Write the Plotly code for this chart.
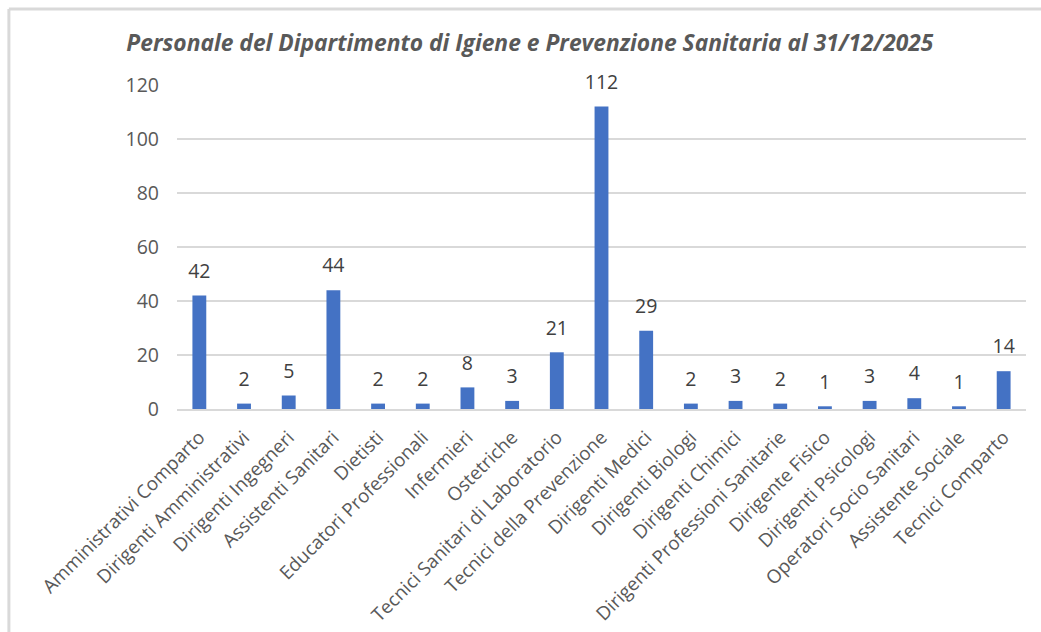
import plotly.graph_objects as go

categorie = [
    "Amministrativi Comparto", "Dirigenti Amministrativi", "Dirigenti Ingegneri",
    "Assistenti Sanitari", "Dietisti", "Educatori Professionali", "Infermieri",
    "Ostetriche", "Tecnici Sanitari di Laboratorio", "Tecnici della Prevenzione",
    "Dirigenti Medici", "Dirigenti Biologi", "Dirigenti Chimici",
    "Dirigenti Professioni Sanitarie", "Dirigente Fisico", "Dirigenti Psicologi",
    "Operatori Socio Sanitari", "Assistente Sociale", "Tecnici Comparto",
]
personale = [42, 2, 5, 44, 2, 2, 8, 3, 21, 112, 29, 2, 3, 2, 1, 3, 4, 1, 14]
tick_y = [0, 20, 40, 60, 80, 100, 120]

fig = go.Figure()
fig.add_trace(go.Bar(
    x=categorie,
    y=personale,
    width=0.31,
    marker=dict(color="#4472C4", line=dict(width=0)),
    cliponaxis=False,
))
# etichette dei valori sopra le barre
fig.add_trace(go.Scatter(
    x=categorie,
    y=personale,
    mode="markers+text",
    marker=dict(size=19, opacity=0),
    text=personale,
    textposition="top center",
    textfont=dict(family="Open Sans", size=19.5, color="#404040"),
    hoverinfo="skip",
    cliponaxis=False,
))

fig.update_layout(
    width=1041, height=632,
    paper_bgcolor="white", plot_bgcolor="white",
    margin=dict(l=177, r=15, t=85, b=223, autoexpand=False),
    showlegend=False,
    title=dict(
        text="<b><i>Personale del Dipartimento di Igiene e Prevenzione Sanitaria al 31/12/2025</i></b>",
        x=0.509, xanchor="center", y=0.932, yanchor="middle",
        font=dict(family="Open Sans", size=22.8, color="#595959"),
    ),
    font=dict(family="Open Sans", color="#595959"),
)
fig.update_xaxes(
    range=[-0.5, len(categorie) - 0.5], automargin=False,
    tickangle=-45, tickfont=dict(size=18.8, color="#595959"),
    showline=True, linecolor="#d9d9d9", linewidth=2,
    ticks="", showgrid=False, ticklabelstandoff=8,
)
fig.update_yaxes(
    range=[0, 120], tickvals=tick_y, tickfont=dict(size=19.5, color="#595959"),
    gridcolor="#d9d9d9", gridwidth=2, zeroline=False, ticks="", ticklabelstandoff=17,
    automargin=False,
)

# cornice grigia in alto e a sinistra
fig.add_shape(type="line", xref="paper", yref="paper", x0=-0.198, x1=1.03, y0=1.2346, y1=1.2346,
              line=dict(color="#d9d9d9", width=3))
fig.add_shape(type="line", xref="paper", yref="paper", x0=-0.198, x1=-0.198, y0=1.2346, y1=-1.0,
              line=dict(color="#d9d9d9", width=3))

fig.write_html("out.html", config={"displayModeBar": False},
               post_script="document.body.style.margin='0';")
